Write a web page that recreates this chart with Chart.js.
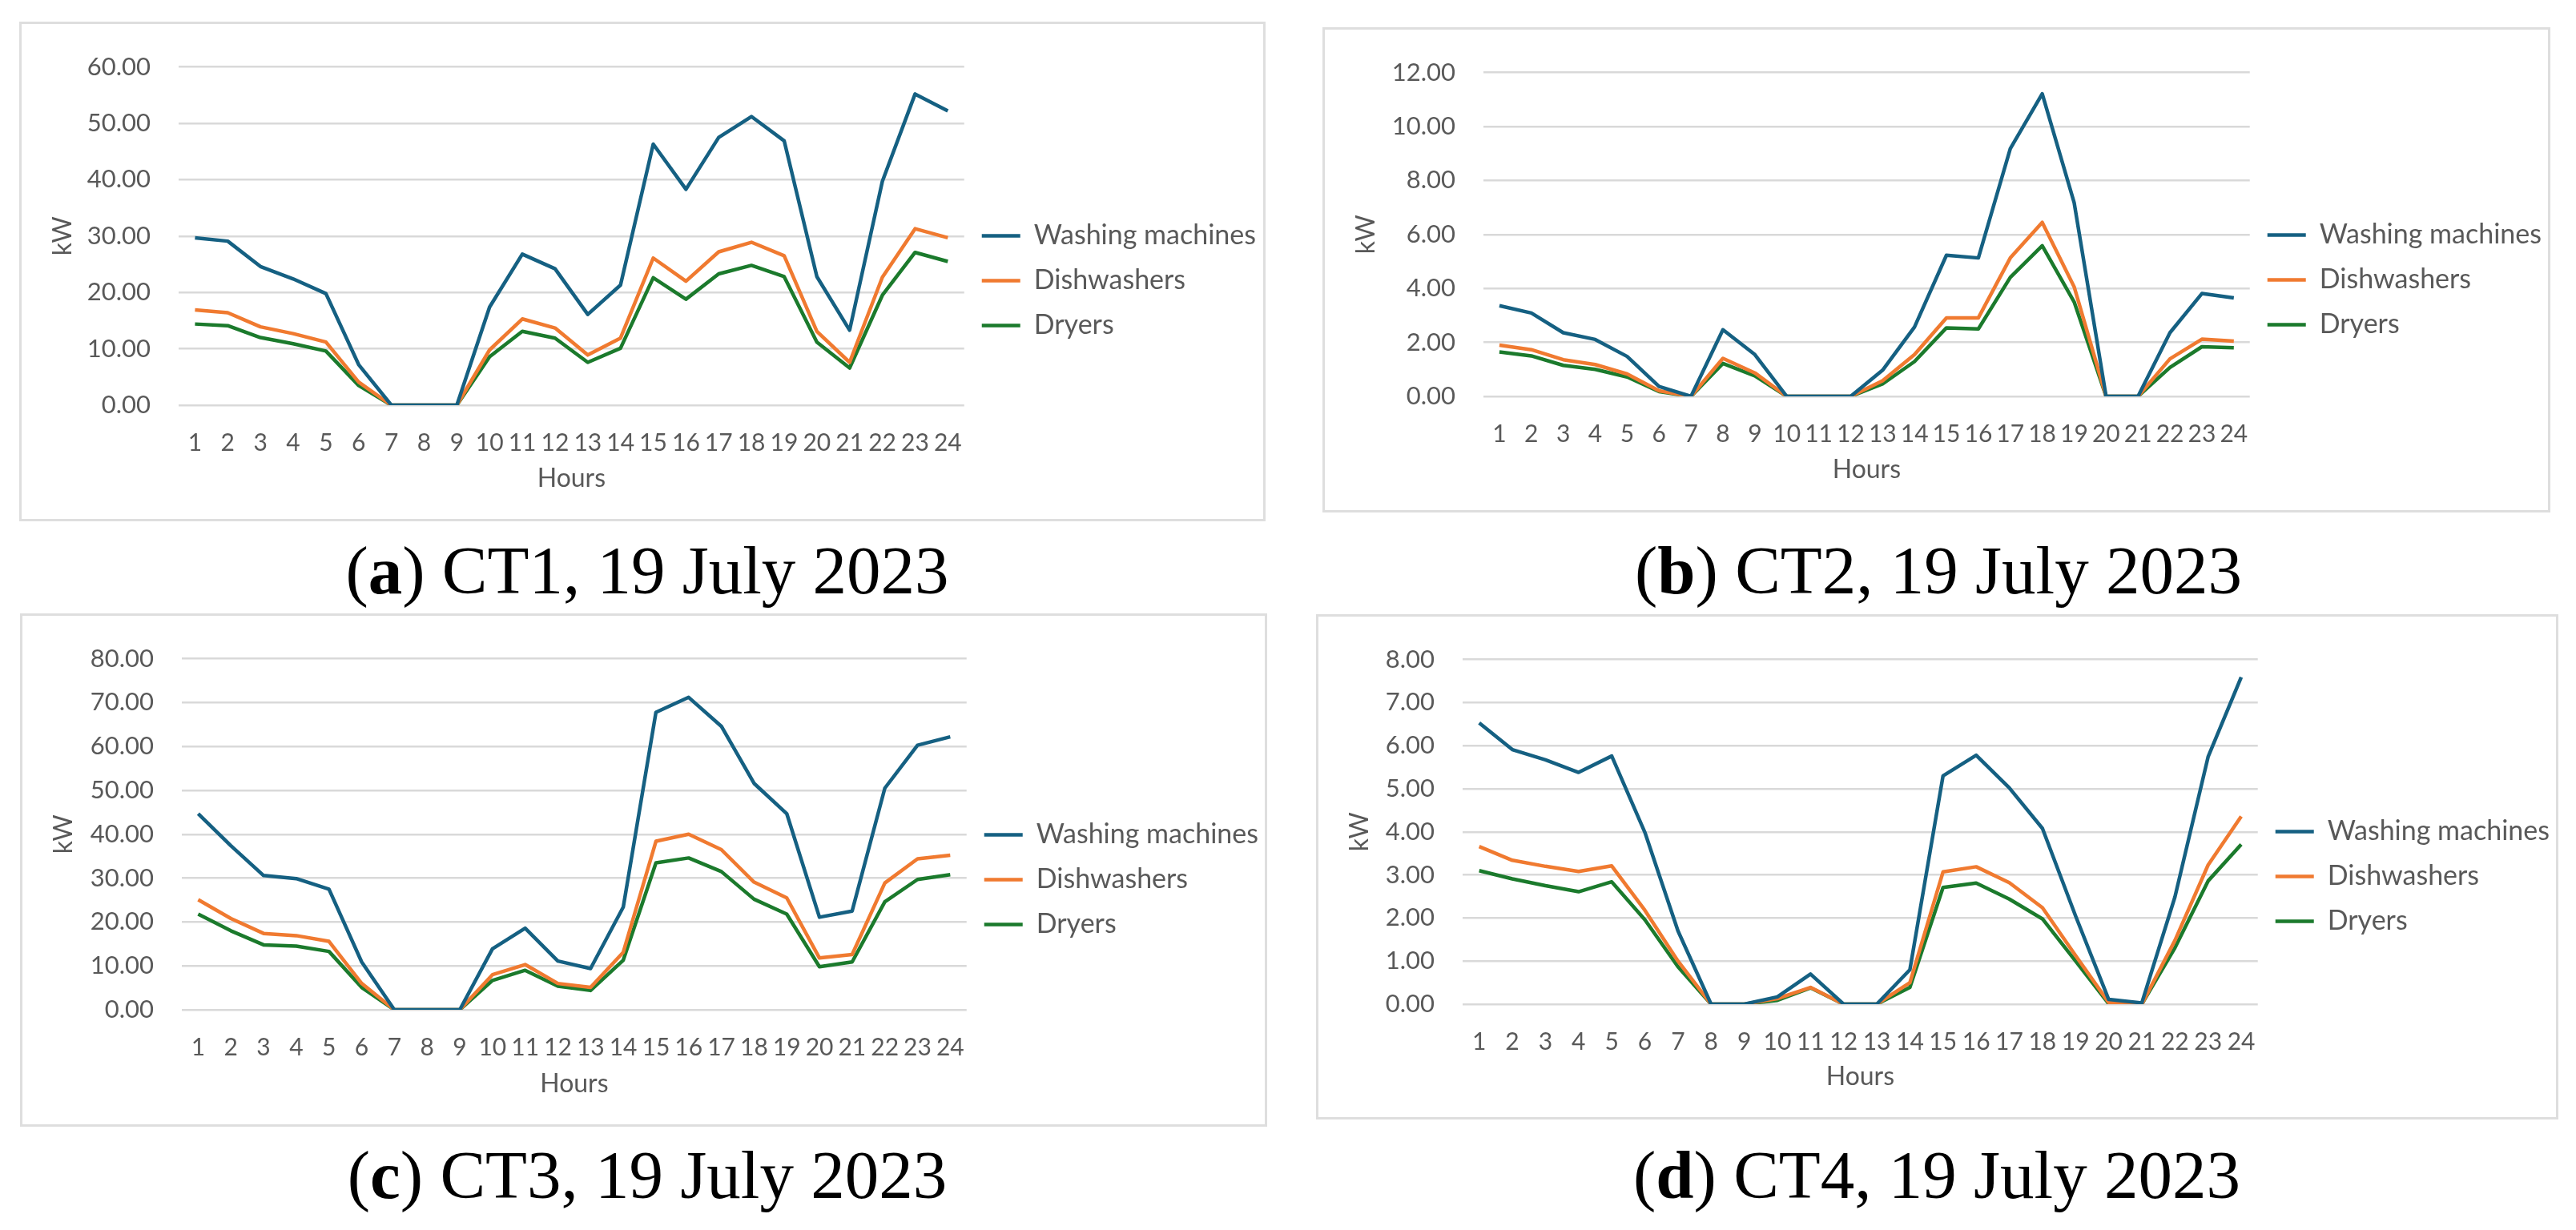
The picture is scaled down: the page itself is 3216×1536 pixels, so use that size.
<!DOCTYPE html>
<html>
<head>
<meta charset="utf-8">
<script src="https://cdn.jsdelivr.net/npm/chart.js@4/dist/chart.umd.min.js"></script>
<style>
  html, body { margin: 0; padding: 0; background: #fff; }
  body { width: 3216px; height: 1536px; position: relative; overflow: hidden; }
  .box { position: absolute; border: 3px solid #dedede; box-sizing: border-box; background: #fff; }
  .box div { position: absolute; left: 0; top: 0; right: 0; bottom: 0; }
  .caption { position: absolute; font-family: "Liberation Serif", "DejaVu Serif", serif; font-size: 85px;
             line-height: 85px; color: #000; text-align: center; white-space: nowrap; }
</style>
</head>
<body>

<div class="box" id="box1"><div><canvas id="ct1"></canvas></div></div>
<div class="box" id="box2"><div><canvas id="ct2"></canvas></div></div>
<div class="box" id="box3"><div><canvas id="ct3"></canvas></div></div>
<div class="box" id="box4"><div><canvas id="ct4"></canvas></div></div>

<div class="caption" id="cap1">(<b>a</b>) CT1, 19 July 2023</div>
<div class="caption" id="cap2">(<b>b</b>) CT2, 19 July 2023</div>
<div class="caption" id="cap3">(<b>c</b>) CT3, 19 July 2023</div>
<div class="caption" id="cap4">(<b>d</b>) CT4, 19 July 2023</div>

<script>
// Data
const hours = ['1','2','3','4','5','6','7','8','9','10','11','12','13','14','15','16','17','18','19','20','21','22','23','24'];
const seriesNames = ['Washing machines', 'Dishwashers', 'Dryers'];

const ct1Washing = [29.7,29.1,24.6,22.4,19.8,7.2,0,0,0,17.4,26.8,24.2,16.1,21.3,46.3,38.3,47.5,51.2,46.9,22.8,13.3,39.7,55.2,52.2];
const ct1Dish    = [16.9,16.4,13.9,12.7,11.2,4.1,0,0,0,9.8,15.3,13.7,8.9,11.9,26.1,22.0,27.2,28.9,26.5,13.1,7.6,22.7,31.3,29.7];
const ct1Dryers  = [14.4,14.1,12.0,10.9,9.6,3.5,0,0,0,8.6,13.1,11.9,7.6,10.1,22.6,18.8,23.3,24.8,22.8,11.2,6.6,19.5,27.1,25.5];

const ct2Washing = [3.36,3.09,2.36,2.11,1.48,0.37,0,2.47,1.55,0,0,0,0.97,2.57,5.23,5.13,9.18,11.21,7.18,0,0,2.36,3.81,3.65];
const ct2Dish    = [1.90,1.73,1.36,1.18,0.83,0.21,0,1.41,0.87,0,0,0,0.58,1.55,2.91,2.91,5.13,6.45,4.06,0,0,1.39,2.12,2.05];
const ct2Dryers  = [1.65,1.50,1.15,1.00,0.72,0.18,0,1.22,0.76,0,0,0,0.46,1.29,2.54,2.50,4.41,5.58,3.50,0,0,1.07,1.84,1.80];

const ct3Washing = [44.7,37.4,30.6,29.9,27.5,10.9,0,0,0,13.9,18.6,11.1,9.4,23.4,67.8,71.2,64.6,51.6,44.7,21.1,22.5,50.5,60.3,62.2];
const ct3Dish    = [25.1,20.8,17.4,16.9,15.6,6.0,0,0,0,8.0,10.3,6.0,5.1,13.1,38.4,40.0,36.5,29.1,25.5,11.8,12.6,28.9,34.4,35.2];
const ct3Dryers  = [21.8,18.0,14.8,14.5,13.3,5.1,0,0,0,6.7,9.0,5.4,4.4,11.3,33.5,34.6,31.5,25.2,21.8,9.8,10.9,24.6,29.7,30.8];

const ct4Washing = [6.53,5.91,5.67,5.38,5.76,3.99,1.70,0,0,0.17,0.70,0,0,0.80,5.30,5.78,5.02,4.08,2.05,0.11,0.03,2.49,5.74,7.59];
const ct4Dish    = [3.66,3.34,3.20,3.08,3.21,2.18,1.00,0,0,0.13,0.39,0,0,0.50,3.07,3.19,2.82,2.24,1.13,0.04,0,1.48,3.23,4.36];
const ct4Dryers  = [3.10,2.91,2.75,2.61,2.84,1.96,0.87,0,0,0.09,0.38,0,0,0.39,2.71,2.81,2.44,1.98,1.00,0.01,0,1.31,2.86,3.71];

// y axis ranges (max, step)
const yMax  = [60, 12, 80, 8];
const yStep = [10, 2, 10, 1];

const seriesColors = ['#156082', '#F07A30', '#1B7A2C'];

// Layout: box [left, top, width, height] and plot area inside box [left, right, top, bottom]
const panelLayout = [
    { box: [24, 27, 1556, 624],   area: [196, 1171, 33, 476], cap: [808, 670] },
    { box: [1651, 34, 1533, 606], area: [198, 1149, 35, 458], cap: [2420, 670] },
    { box: [25, 766, 1557, 641],  area: [199, 1173, 34, 492], cap: [808, 1425] },
    { box: [1643, 767, 1551, 631], area: [180, 1167, 34, 484], cap: [2418, 1425] }
];

const textGrey = '#595959';
const padSide = 10;

function placeBoxes() {
    panelLayout.forEach((p, i) => {
        const b = document.getElementById('box' + (i + 1));
        b.style.left = p.box[0] + 'px';
        b.style.top = p.box[1] + 'px';
        b.style.width = p.box[2] + 'px';
        b.style.height = p.box[3] + 'px';
        const c = document.getElementById('cap' + (i + 1));
        c.style.left = (p.cap[0] - 600) + 'px';
        c.style.width = '1200px';
        c.style.top = p.cap[1] + 'px';
    });
}

function drawPanel(i, series) {
    const p = panelLayout[i];
    const w = p.box[2] - 6, h = p.box[3] - 6;
    const [aL, aR, aT, aB] = p.area;
    let ctx = document.getElementById('ct' + (i + 1)).getContext('2d');
    return new Chart(ctx, {
        type: 'line',
        data: {
            labels: hours,
            datasets: series.map((vals, k) => ({
                label: seriesNames[k],
                data: vals,
                borderColor: seriesColors[k],
                backgroundColor: seriesColors[k],
                borderWidth: 4.5,
                borderJoinStyle: 'round',
                pointRadius: 0,
                tension: 0
            }))
        },
        options: {
            responsive: true,
            maintainAspectRatio: false,
            animation: false,
            layout: { padding: { left: padSide, top: aT, bottom: padSide, right: w - aR - 380 } },
            plugins: {
                tooltip: { enabled: false },
                legend: {
                    position: 'right',
                    align: 'center',
                    labels: {
                        color: textGrey,
                        font: { size: 34 },
                        usePointStyle: true,
                        pointStyle: 'line',
                        pointStyleWidth: 48,
                        padding: 22
                    }
                }
            },
            scales: {
                x: {
                    offset: true,
                    grid: { display: false, drawTicks: false },
                    border: { display: false },
                    ticks: { color: textGrey, font: { size: 30 }, autoSkip: false, maxRotation: 0, padding: 29 },
                    title: { display: true, text: 'Hours', color: textGrey, font: { size: 32 }, padding: { top: 0, bottom: 21 } },
                    afterFit: (axis) => { axis.height = h - padSide - aB; }
                },
                y: {
                    min: 0,
                    max: yMax[i],
                    grid: { color: '#d9d9d9', lineWidth: 2.5, drawTicks: false },
                    border: { display: false },
                    ticks: {
                        stepSize: yStep[i],
                        color: textGrey,
                        font: { size: 31 },
                        padding: 35,
                        callback: (v) => v.toFixed(2)
                    },
                    title: { display: true, text: 'kW', color: textGrey, font: { size: 32 }, padding: { top: 22, bottom: 0 } },
                    afterFit: (axis) => { axis.width = aL - padSide; }
                }
            }
        }
    });
}

Chart.defaults.font.family = 'Lato';
placeBoxes();

document.fonts.load('32px Lato').then(() => {
    drawPanel(0, [ct1Washing, ct1Dish, ct1Dryers]);
    drawPanel(1, [ct2Washing, ct2Dish, ct2Dryers]);
    drawPanel(2, [ct3Washing, ct3Dish, ct3Dryers]);
    drawPanel(3, [ct4Washing, ct4Dish, ct4Dryers]);
});
</script>
</body>
</html>
